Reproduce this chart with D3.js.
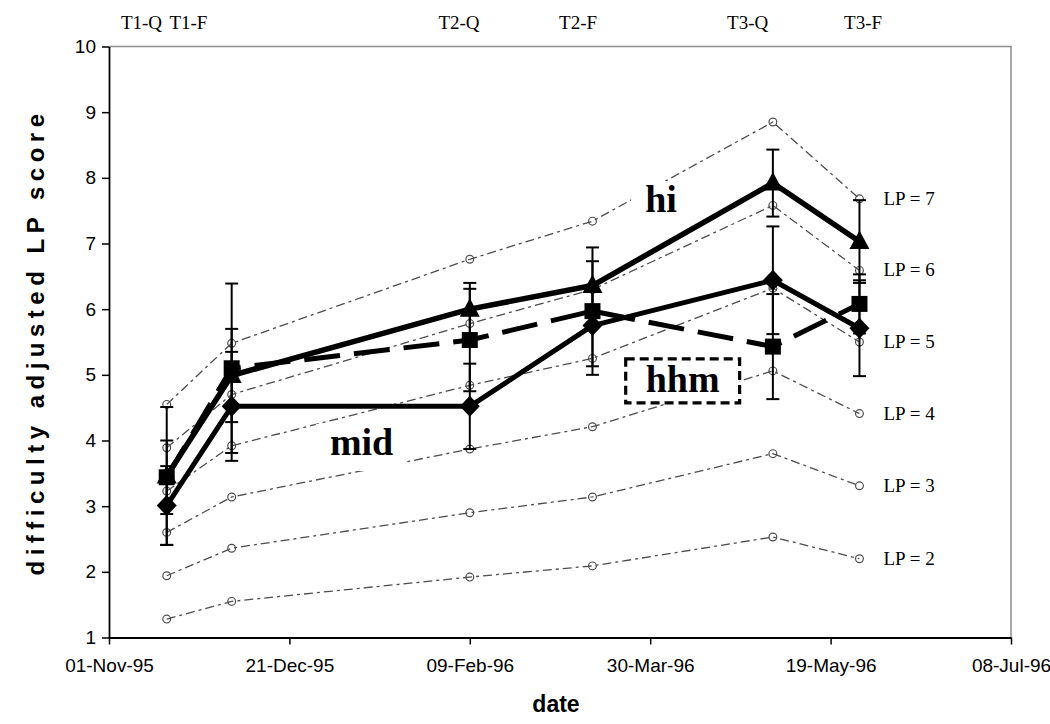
<!DOCTYPE html>
<html>
<head>
<meta charset="utf-8">
<script src="https://cdn.jsdelivr.net/npm/d3@7/dist/d3.min.js"></script>
<style>
  html, body { margin: 0; padding: 0; background: #fff; }
  svg { display: block; }
</style>
</head>
<body>
<svg id="chart" width="1050" height="724"></svg>
<script>
// Test sessions (qualifying / final rounds of three tournaments)
const sessions = ["T1-Q", "T1-F", "T2-Q", "T2-F", "T3-Q", "T3-F"];
const sessionDates = ["1995-11-17", "1995-12-05", "1996-02-09", "1996-03-14", "1996-05-03", "1996-05-27"];
const sessionLabelDates = ["1995-11-10", "1995-11-23", "1996-02-06", "1996-03-10", "1996-04-26", "1996-05-28"];

// Reference curves: difficulty-adjusted score for constant LP levels 2..7
const lpLevels = [2, 3, 4, 5, 6, 7];
const lp2 = [1.28, 1.55, 1.92, 2.09, 2.53, 2.20];
const lp3 = [1.94, 2.36, 2.90, 3.14, 3.80, 3.31];
const lp4 = [2.60, 3.14, 3.87, 4.21, 5.06, 4.41];
const lp5 = [3.23, 3.92, 4.84, 5.25, 6.32, 5.50];
const lp6 = [3.89, 4.70, 5.78, 6.30, 7.58, 6.59];
const lp7 = [4.55, 5.48, 6.76, 7.34, 8.85, 7.68];

// Group means and error half-widths
const hiScore  = [3.46, 4.99, 6.00, 6.36, 7.92, 7.03];
const hiErr    = [1.05, 0.71, 0.40, 0.37, 0.51, 0.63];
const hhmScore = [3.44, 5.10, 5.53, 5.97, 5.43, 6.08];
const hhmErr   = [0.56, 1.29, 0.78, 0.97, 0.80, 0.45];
const midScore = [3.01, 4.52, 4.52, 5.75, 6.44, 5.71];
const midErr   = [0.60, 0.83, 0.65, 0.62, 0.82, 0.73];

// Axis ticks
const xTickDates = ["1995-11-01", "1995-12-21", "1996-02-09", "1996-03-30", "1996-05-19", "1996-07-08"];
const yTicks = [1, 2, 3, 4, 5, 6, 7, 8, 9, 10];

// Group label anchors (date, score at text baseline)
const hiLabel  = { text: "hi",  date: "1996-04-02", score: 7.48 };
const midLabel = { text: "mid", date: "1996-01-10", score: 3.78 };
const hhmLabel = { text: "hhm", date: "1996-04-08", score: 4.74 };

const parse = d3.utcParse("%Y-%m-%d");
const W = 1050, H = 724;
const margin = { left: 109, right: W - 1011, top: 46.5, bottom: H - 637.5 };

const svg = d3.select("#chart");

const x = d3.scaleUtc()
  .domain([parse("1995-11-01"), parse("1996-07-08")])
  .range([margin.left, W - margin.right]);
const y = d3.scaleLinear()
  .domain([1, 10])
  .range([H - margin.bottom, margin.top]);

const sDates = sessionDates.map(parse);
const sansFont = "'Liberation Sans', Arial, sans-serif";
const serifFont = "'Liberation Serif', 'Times New Roman', serif";

// Plot frame (top and right edges)
svg.append("path")
  .attr("d", `M${x.range()[0]},${y(10)}H${x.range()[1]}V${y(1)}`)
  .attr("fill", "none").attr("stroke", "#8c8c8c").attr("stroke-width", 1.5);

// Axes
const xAxis = d3.axisBottom(x)
  .tickValues(xTickDates.map(parse))
  .tickFormat(d3.utcFormat("%d-%b-%y"))
  .tickSizeInner(7).tickSizeOuter(0).tickPadding(14);
const gx = svg.append("g").attr("transform", `translate(0,${y(1)})`).call(xAxis);

const yAxis = d3.axisLeft(y).tickValues(yTicks).tickFormat(d3.format("d"))
  .tickSizeInner(7).tickSizeOuter(0).tickPadding(6);
const gy = svg.append("g").attr("transform", `translate(${x.range()[0]},0)`).call(yAxis);

[gx, gy].forEach(g => {
  g.select(".domain").attr("stroke", "#000").attr("stroke-width", 1.8);
  g.selectAll(".tick line").attr("stroke", "#000").attr("stroke-width", 1.5);
  g.selectAll(".tick text")
    .attr("fill", "#000")
    .style("font-family", sansFont)
    .style("font-size", "19px");
});

// Axis titles
svg.append("text")
  .attr("x", (x.range()[0] + x.range()[1]) / 2 - 4)
  .attr("y", 712)
  .attr("text-anchor", "middle")
  .style("font-family", sansFont)
  .style("font-weight", "bold").style("font-size", "23px")
  .text("date");

svg.append("text")
  .attr("transform", `translate(44,${(y(1) + y(10)) / 2}) rotate(-90)`)
  .attr("text-anchor", "middle")
  .style("font-family", sansFont)
  .style("font-weight", "bold").style("font-size", "24px")
  .style("letter-spacing", "5.5px")
  .text("difficulty adjusted LP score");

// Session labels along the top
svg.append("g").selectAll("text")
  .data(sessions)
  .join("text")
  .attr("x", (d, i) => x(parse(sessionLabelDates[i])))
  .attr("y", 29)
  .attr("text-anchor", "middle")
  .style("font-family", serifFont)
  .style("font-size", "19px")
  .text(d => d);

// LP reference curves
const lpSeries = [lp2, lp3, lp4, lp5, lp6, lp7];
const line = d3.line().x((d, i) => x(sDates[i])).y(d => y(d));
const gLP = svg.append("g");
gLP.selectAll("path")
  .data(lpSeries)
  .join("path")
  .attr("d", line)
  .attr("fill", "none")
  .attr("stroke", "#4d4d4d")
  .attr("stroke-width", 1.3)
  .attr("stroke-dasharray", "9,4,3,4");
lpSeries.forEach(s => {
  gLP.append("g").selectAll("circle")
    .data(s)
    .join("circle")
    .attr("cx", (d, i) => x(sDates[i]))
    .attr("cy", d => y(d))
    .attr("r", 3.9)
    .attr("fill", "none")
    .attr("stroke", "#4d4d4d")
    .attr("stroke-width", 1.2);
});

// LP level labels at the right end
svg.append("g").selectAll("text")
  .data(lpLevels)
  .join("text")
  .attr("x", x(sDates[5]) + 24)
  .attr("y", (d, i) => y(lpSeries[i][5]) + 6)
  .style("font-family", serifFont)
  .style("font-size", "19px")
  .text(d => `LP = ${d}`);

// Group labels on white boxes (optionally with a dashed frame)
function groupLabel(lbl, boxed) {
  const g = svg.append("g");
  const t = g.append("text")
    .attr("x", x(parse(lbl.date)))
    .attr("y", y(lbl.score))
    .attr("text-anchor", "middle")
    .style("font-family", serifFont)
    .style("font-weight", "bold")
    .style("font-size", "38px")
    .text(lbl.text);
  const bb = t.node().getBBox();
  const padX = boxed ? 20 : 14, padTop = boxed ? 1 : 3, padBot = boxed ? 3 : 8;
  const r = g.insert("rect", "text")
    .attr("x", bb.x - padX)
    .attr("y", bb.y + padTop)
    .attr("width", bb.width + 2 * padX)
    .attr("height", bb.height - padTop + padBot)
    .attr("fill", "#fff");
  if (boxed) {
    r.attr("stroke", "#000").attr("stroke-width", 3.2).attr("stroke-dasharray", "9,5");
  }
  return g;
}
groupLabel(hiLabel, false);
groupLabel(midLabel, false);

// Group series
const groups = [
  { name: "mid", score: midScore, err: midErr, width: 5, dash: null, marker: "diamond" },
  { name: "hhm", score: hhmScore, err: hhmErr, width: 5, dash: "36,14", marker: "square" },
  { name: "hi",  score: hiScore,  err: hiErr,  width: 5.5, dash: null, marker: "triangle" }
];

// Error bars
const gErr = svg.append("g").attr("stroke", "#000").attr("stroke-width", 2);
groups.forEach(gr => {
  gr.score.forEach((v, i) => {
    const cx = x(sDates[i]);
    const lo = y(v - gr.err[i]), hi = y(v + gr.err[i]);
    gErr.append("line").attr("x1", cx).attr("x2", cx).attr("y1", lo).attr("y2", hi);
    gErr.append("line").attr("x1", cx - 6.5).attr("x2", cx + 6.5).attr("y1", lo).attr("y2", lo);
    gErr.append("line").attr("x1", cx - 6.5).attr("x2", cx + 6.5).attr("y1", hi).attr("y2", hi);
  });
});

// Lines and markers
const markerPath = {
  diamond: "M0,-10.5L10,0L0,10.5L-10,0Z",
  square: "M-8,-8H8V8H-8Z",
  triangle: "M0,-11L10,7.5L-10,7.5Z"
};
groups.forEach(gr => {
  svg.append("path")
    .datum(gr.score)
    .attr("d", line)
    .attr("fill", "none")
    .attr("stroke", "#000")
    .attr("stroke-width", gr.width)
    .attr("stroke-linejoin", "round")
    .attr("stroke-dasharray", gr.dash);
});
groups.forEach(gr => {
  svg.append("g").selectAll("path")
    .data(gr.score)
    .join("path")
    .attr("transform", (d, i) => `translate(${x(sDates[i])},${y(d)})`)
    .attr("d", markerPath[gr.marker])
    .attr("fill", "#000");
});

// Boxed "hhm" label
groupLabel(hhmLabel, true);
</script>
</body>
</html>
